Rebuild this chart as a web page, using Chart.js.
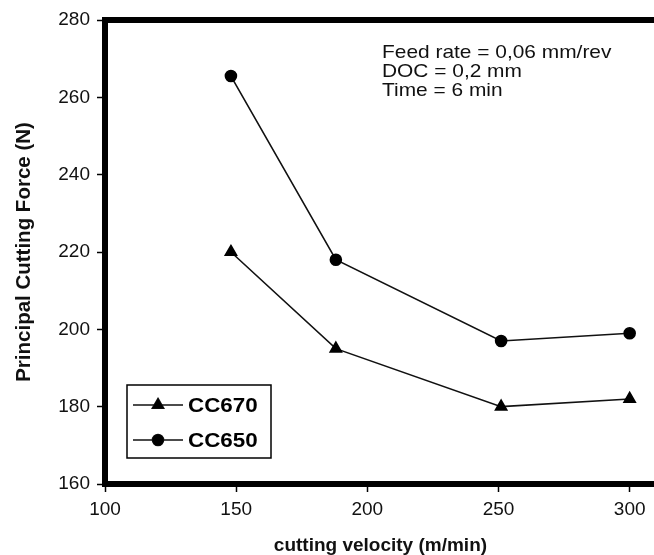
<!DOCTYPE html>
<html>
<head>
<meta charset="utf-8">
<script src="https://cdn.jsdelivr.net/npm/chart.js@4/dist/chart.umd.min.js"></script>
<style>
  html, body { margin: 0; padding: 0; background: #fff; overflow: hidden; }
  #c { display: block; }
</style>
</head>
<body>
<canvas id="c" width="664" height="555"></canvas>
<script>
// cutting velocity (m/min)
const velocity = [148, 188, 251, 300];
// principal cutting force (N)
const cc670 = [220, 195, 180, 182];
const cc650 = [265.5, 218, 197, 199];

const xTicks = [100, 150, 200, 250, 300];
const yTicks = [160, 180, 200, 220, 240, 260, 280];
const notes = ['Feed rate = 0,06 mm/rev', 'DOC = 0,2 mm', 'Time = 6 min'];

const FONT = "'Liberation Sans', Arial, sans-serif";
const INK = '#111';

const toPoints = ys => velocity.map((v, i) => ({ x: v, y: ys[i] }));

// the scanned figure's lettering is a bit wider than plain Arial
function wideText(ctx, text, x, y, sx) {
    ctx.save();
    ctx.translate(x, y);
    ctx.scale(sx, 1);
    ctx.fillText(text, 0, 0);
    ctx.restore();
}

// top frame line, note text and the boxed legend inside the plot
const extras = {
    id: 'extras',
    afterDraw(chart) {
        const { ctx, chartArea: a } = chart;
        ctx.save();
        ctx.strokeStyle = '#000';
        ctx.lineWidth = 6;
        ctx.beginPath();
        ctx.moveTo(a.left - 3, a.top);
        ctx.lineTo(a.right, a.top);
        ctx.stroke();

        // notes
        ctx.fillStyle = INK;
        ctx.font = `19px ${FONT}`;
        ctx.textBaseline = 'middle';
        ctx.textAlign = 'left';
        notes.forEach((t, i) => wideText(ctx, t, a.left + 277, a.top + 33 + i * 19, 1.1));

        // legend
        const bx = a.left + 22, by = a.bottom - 99, bw = 144, bh = 73;
        ctx.lineWidth = 1.5;
        ctx.strokeStyle = '#000';
        ctx.strokeRect(bx, by, bw, bh);
        chart.data.datasets.forEach((ds, i) => {
            const y = by + 20 + i * 35;
            ctx.strokeStyle = ds.borderColor;
            ctx.lineWidth = ds.borderWidth;
            ctx.beginPath();
            ctx.moveTo(bx + 6, y);
            ctx.lineTo(bx + 56, y);
            ctx.stroke();
            Chart.helpers.drawPoint(ctx, {
                pointStyle: ds.pointStyle, radius: ds.pointRadius, borderWidth: 1, rotation: 0
            }, bx + 31, y);
            ctx.fillStyle = '#000';
            ctx.fill();
            ctx.font = `bold 20px ${FONT}`;
            wideText(ctx, ds.label, bx + 61, y + 1, 1.12);
        });
        ctx.restore();
    }
};

new Chart(document.getElementById('c'), {
    type: 'line',
    data: {
        datasets: [
            {
                label: 'CC670', data: toPoints(cc670),
                borderColor: INK, borderWidth: 1.6,
                pointStyle: 'triangle', pointRadius: 6.5,
                pointBackgroundColor: '#000', pointBorderColor: '#000'
            },
            {
                label: 'CC650', data: toPoints(cc650),
                borderColor: INK, borderWidth: 1.6,
                pointStyle: 'circle', pointRadius: 5.5,
                pointBackgroundColor: '#000', pointBorderColor: '#000'
            }
        ]
    },
    options: {
        responsive: false,
        animation: false,
        layout: { padding: { top: 20, left: 0, right: 0, bottom: 0 } },
        plugins: { legend: { display: false }, tooltip: { enabled: false } },
        scales: {
            x: {
                type: 'linear', min: 100, max: 310,
                afterBuildTicks: s => { s.ticks = xTicks.map(v => ({ value: v })); },
                afterFit: s => { s.height = 71; },
                border: { display: true, width: 6, color: '#000' },
                grid: { display: true, drawOnChartArea: false, drawTicks: true, tickLength: 8, tickColor: '#000', tickWidth: 1.5 },
                ticks: { color: INK, font: { family: FONT, size: 19 }, padding: 6, maxRotation: 0 },
                title: {
                    display: true, text: 'cutting velocity (m/min)', color: INK,
                    font: { family: FONT, size: 19, weight: 'bold', lineHeight: 1 },
                    padding: { top: 1, bottom: 0 }
                }
            },
            y: {
                type: 'linear', min: 160, max: 280,
                afterBuildTicks: s => { s.ticks = yTicks.map(v => ({ value: v })); },
                afterFit: s => { s.width = 105; },
                border: { display: true, width: 6, color: '#000' },
                grid: { display: true, drawOnChartArea: false, drawTicks: true, tickLength: 8, tickColor: '#000', tickWidth: 1.5 },
                ticks: { color: INK, font: { family: FONT, size: 19 }, padding: 7 },
                title: {
                    display: true, text: 'Principal Cutting Force (N)', color: INK,
                    font: { family: FONT, size: 20.5, weight: 'bold', lineHeight: 1 },
                    padding: { top: 14, bottom: 0 }
                }
            }
        }
    },
    plugins: [extras]
});
</script>
</body>
</html>
